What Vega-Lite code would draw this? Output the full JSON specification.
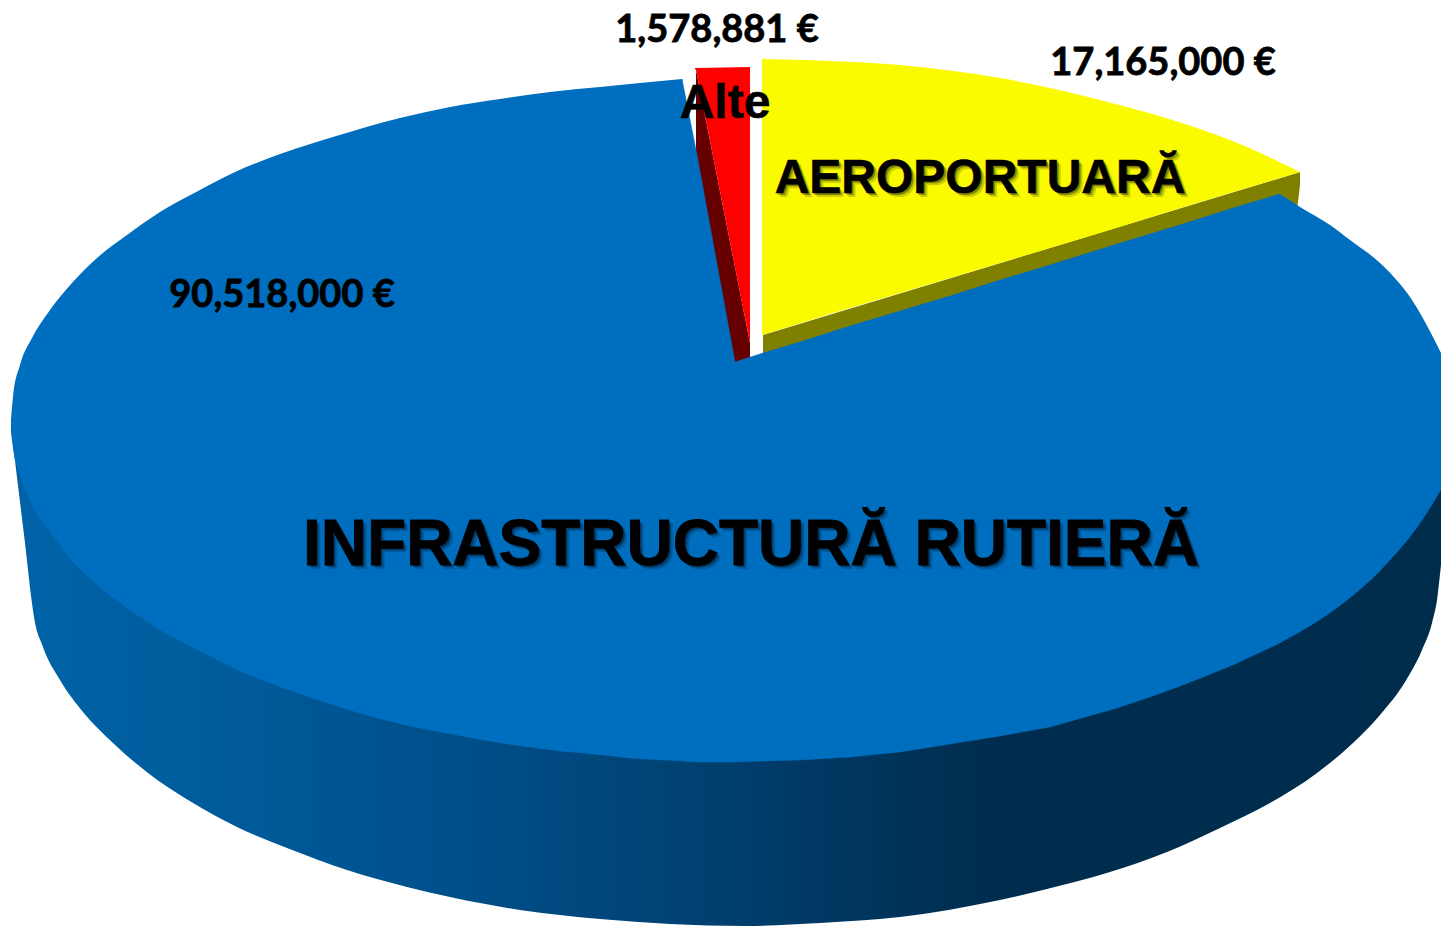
{
"$schema":"https://vega.github.io/schema/vega-lite/v6.json",
"width":1441,"height":926,"padding":0,
"autosize":{"type":"fit","contains":"padding"},
"background":"white",
"config":{"view":{"stroke":null}},
"datasets":{
"outline":[
{"part":"side","x":11,"y":428,"y2":428},{"part":"side","x":15,"y":455,"y2":461},{"part":"side","x":20,"y":470,"y2":502},{"part":"side","x":25,"y":485,"y2":543},{"part":"side","x":32,"y":500,"y2":603},{"part":"side","x":34,"y":503,"y2":617},{"part":"side","x":43,"y":517,"y2":647},{"part":"side","x":60,"y":540,"y2":680},{"part":"side","x":83,"y":565,"y2":712},{"part":"side","x":113,"y":595,"y2":743},{"part":"side","x":148,"y":620,"y2":773},{"part":"side","x":188,"y":640,"y2":800},{"part":"side","x":237,"y":665,"y2":827},{"part":"side","x":287,"y":685,"y2":848},{"part":"side","x":347,"y":705,"y2":870},{"part":"side","x":407,"y":720,"y2":887},{"part":"side","x":450,"y":728,"y2":897},{"part":"side","x":520,"y":740,"y2":910},{"part":"side","x":600,"y":750,"y2":919},{"part":"side","x":670,"y":755,"y2":924},{"part":"side","x":745,"y":755,"y2":926},{"part":"side","x":820,"y":752,"y2":923},{"part":"side","x":900,"y":745,"y2":917},{"part":"side","x":1000,"y":730,"y2":900},{"part":"side","x":1043,"y":720,"y2":890},{"part":"side","x":1110,"y":700,"y2":872},{"part":"side","x":1167,"y":680,"y2":852},{"part":"side","x":1220,"y":655,"y2":828},{"part":"side","x":1270,"y":635,"y2":803},{"part":"side","x":1317,"y":605,"y2":773},{"part":"side","x":1353,"y":580,"y2":743},{"part":"side","x":1380,"y":555,"y2":715},{"part":"side","x":1405,"y":530,"y2":682},{"part":"side","x":1422,"y":505,"y2":650},{"part":"side","x":1432,"y":490,"y2":623},{"part":"side","x":1437,"y":485,"y2":600},{"part":"side","x":1441,"y":475,"y2":565},
{"part":"yellowSide","x":763,"y":335,"y2":358},{"part":"yellowSide","x":1297,"y":173,"y2":210},{"part":"yellowSide","x":1300,"y":172,"y2":185},
{"part":"redSide","x":696,"y":70,"y2":160},{"part":"redSide","x":735,"y":267,"y2":370},{"part":"redSide","x":750,"y":343,"y2":365},
{"part":"blueL","x":11,"y":420,"y2":432},{"part":"blueL","x":13,"y":397,"y2":448},{"part":"blueL","x":20,"y":365,"y2":474},{"part":"blueL","x":32,"y":338,"y2":505},{"part":"blueL","x":50,"y":310,"y2":532},{"part":"blueL","x":72,"y":283,"y2":561},{"part":"blueL","x":97,"y":258,"y2":585},{"part":"blueL","x":127,"y":235,"y2":608},{"part":"blueL","x":160,"y":212,"y2":630},{"part":"blueL","x":200,"y":190,"y2":651},{"part":"blueL","x":233,"y":173,"y2":668},{"part":"blueL","x":283,"y":153,"y2":688},{"part":"blueL","x":333,"y":137,"y2":705},{"part":"blueL","x":400,"y":118,"y2":724},{"part":"blueL","x":450,"y":107,"y2":734},{"part":"blueL","x":500,"y":99,"y2":743},{"part":"blueL","x":550,"y":92,"y2":750},{"part":"blueL","x":600,"y":87,"y2":755},{"part":"blueL","x":640,"y":83,"y2":759},{"part":"blueL","x":682,"y":79,"y2":761},
{"part":"blueM","x":682,"y":79,"y2":761},{"part":"blueM","x":697,"y":155,"y2":762},{"part":"blueM","x":735,"y":362,"y2":762},{"part":"blueM","x":763,"y":353,"y2":761},{"part":"blueM","x":800,"y":342,"y2":760},{"part":"blueM","x":850,"y":326,"y2":757},{"part":"blueM","x":900,"y":311,"y2":752},{"part":"blueM","x":950,"y":296,"y2":744},{"part":"blueM","x":1000,"y":280,"y2":736},{"part":"blueM","x":1050,"y":265,"y2":727},{"part":"blueM","x":1117,"y":244,"y2":708},{"part":"blueM","x":1150,"y":234,"y2":697},{"part":"blueM","x":1183,"y":224,"y2":685},{"part":"blueM","x":1233,"y":208,"y2":665},{"part":"blueM","x":1280,"y":194,"y2":643},
{"part":"blueR","x":1280,"y":194,"y2":643},{"part":"blueR","x":1300,"y":207,"y2":632},{"part":"blueR","x":1330,"y":225,"y2":613},{"part":"blueR","x":1350,"y":240,"y2":598},{"part":"blueR","x":1380,"y":263,"y2":571},{"part":"blueR","x":1400,"y":284,"y2":549},{"part":"blueR","x":1410,"y":297,"y2":537},{"part":"blueR","x":1425,"y":322,"y2":516},{"part":"blueR","x":1441,"y":353,"y2":490},
{"part":"red","x":695,"y":68,"y2":69},{"part":"red","x":696,"y":68,"y2":70},{"part":"red","x":750,"y":67,"y2":343},
{"part":"yellow","x":762,"y":59,"y2":335},{"part":"yellow","x":830,"y":61,"y2":314},{"part":"yellow","x":900,"y":65,"y2":293},{"part":"yellow","x":1000,"y":78,"y2":263},{"part":"yellow","x":1100,"y":100,"y2":233},{"part":"yellow","x":1200,"y":129,"y2":202},{"part":"yellow","x":1230,"y":140,"y2":193},{"part":"yellow","x":1300,"y":172,"y2":172}
],
"labels":[
{"kind":"value","label":"1,578,881 €","value":1578881,"x":717,"y":42},
{"kind":"value","label":"17,165,000 €","value":17165000,"x":1163,"y":75},
{"kind":"value","label":"90,518,000 €","value":90518000,"x":282,"y":307},
{"kind":"small","label":"Alte","x":725,"y":118},
{"kind":"mid","label":"AEROPORTUARĂ","x":980,"y":193},
{"kind":"large","label":"INFRASTRUCTURĂ RUTIERĂ","x":751,"y":565}
]
},
"encoding":{
"x":{"field":"x","type":"quantitative","scale":{"domain":[0,1441],"nice":false,"zero":false},"axis":null},
"y":{"field":"y","type":"quantitative","scale":{"domain":[926,0],"nice":false,"zero":false},"axis":null}
},
"layer":[
{"data":{"name":"outline"},"transform":[{"filter":"datum.part==='side'"}],
 "mark":{"type":"area","interpolate":"monotone","fill":{"gradient":"linear","x1":0,"x2":1,"y1":0,"y2":0,"stops":[{"offset":0,"color":"#0063A8"},{"offset":0.1,"color":"#005E9F"},{"offset":0.3,"color":"#00508C"},{"offset":0.5,"color":"#003F6E"},{"offset":0.68,"color":"#002D4F"},{"offset":1,"color":"#002C4C"}]}},
 "encoding":{"y2":{"field":"y2"}}},
{"data":{"name":"outline"},"transform":[{"filter":"datum.part==='yellowSide'"}],"mark":{"type":"area","color":"#808000"},"encoding":{"y2":{"field":"y2"}}},
{"data":{"name":"outline"},"transform":[{"filter":"datum.part==='redSide'"}],"mark":{"type":"area","color":"#660000"},"encoding":{"y2":{"field":"y2"}}},
{"data":{"name":"outline"},"transform":[{"filter":"datum.part==='blueL'"}],"mark":{"type":"area","color":"#006EBE","interpolate":"monotone"},"encoding":{"y2":{"field":"y2"}}},
{"data":{"name":"outline"},"transform":[{"filter":"datum.part==='blueM'"}],"mark":{"type":"area","color":"#006EBE","stroke":"#006EBE","strokeWidth":0.5},"encoding":{"y2":{"field":"y2"}}},
{"data":{"name":"outline"},"transform":[{"filter":"datum.part==='blueR'"}],"mark":{"type":"area","color":"#006EBE","interpolate":"monotone"},"encoding":{"y2":{"field":"y2"}}},
{"data":{"name":"outline"},"transform":[{"filter":"datum.part==='red'"}],"mark":{"type":"area","color":"#FF0000"},"encoding":{"y2":{"field":"y2"}}},
{"data":{"name":"outline"},"transform":[{"filter":"datum.part==='yellow'"}],"mark":{"type":"area","color":"#FBFB00","interpolate":"monotone"},"encoding":{"y2":{"field":"y2"}}},
{"data":{"name":"labels"},"transform":[{"filter":"datum.kind==='value'"}],"mark":{"type":"text","font":"Lato","fontWeight":"bold","fontSize":38,"align":"center","baseline":"alphabetic","color":"#000000","stroke":"#000000","strokeWidth":0.8},"encoding":{"text":{"field":"label"}}},
{"data":{"name":"labels"},"transform":[{"filter":"datum.kind==='small'"}],"mark":{"type":"text","font":"Liberation Sans","fontWeight":"bold","fontSize":48,"align":"center","baseline":"alphabetic","color":"#000000","stroke":"#000000","strokeWidth":0.6},"encoding":{"text":{"field":"label"}}},
{"data":{"name":"labels"},"transform":[{"filter":"datum.kind==='mid'"}],"mark":{"type":"text","font":"Liberation Sans","fontWeight":"bold","fontSize":48,"align":"center","baseline":"alphabetic","color":"#000000","opacity":0.18,"dx":4,"dy":4},"encoding":{"text":{"field":"label"}}},
{"data":{"name":"labels"},"transform":[{"filter":"datum.kind==='mid'"}],"mark":{"type":"text","font":"Liberation Sans","fontWeight":"bold","fontSize":48,"align":"center","baseline":"alphabetic","color":"#000000","opacity":0.35,"dx":2,"dy":2},"encoding":{"text":{"field":"label"}}},
{"data":{"name":"labels"},"transform":[{"filter":"datum.kind==='mid'"}],"mark":{"type":"text","font":"Liberation Sans","fontWeight":"bold","fontSize":48,"align":"center","baseline":"alphabetic","color":"#000000","stroke":"#000000","strokeWidth":0.6},"encoding":{"text":{"field":"label"}}},
{"data":{"name":"labels"},"transform":[{"filter":"datum.kind==='large'"}],"mark":{"type":"text","font":"Liberation Sans","fontWeight":"bold","fontSize":64,"align":"center","baseline":"alphabetic","color":"#000000","opacity":0.18,"dx":4,"dy":4},"encoding":{"text":{"field":"label"}}},
{"data":{"name":"labels"},"transform":[{"filter":"datum.kind==='large'"}],"mark":{"type":"text","font":"Liberation Sans","fontWeight":"bold","fontSize":64,"align":"center","baseline":"alphabetic","color":"#000000","opacity":0.35,"dx":2,"dy":2},"encoding":{"text":{"field":"label"}}},
{"data":{"name":"labels"},"transform":[{"filter":"datum.kind==='large'"}],"mark":{"type":"text","font":"Liberation Sans","fontWeight":"bold","fontSize":64,"align":"center","baseline":"alphabetic","color":"#000000","stroke":"#000000","strokeWidth":0.8},"encoding":{"text":{"field":"label"}}}
]
}
